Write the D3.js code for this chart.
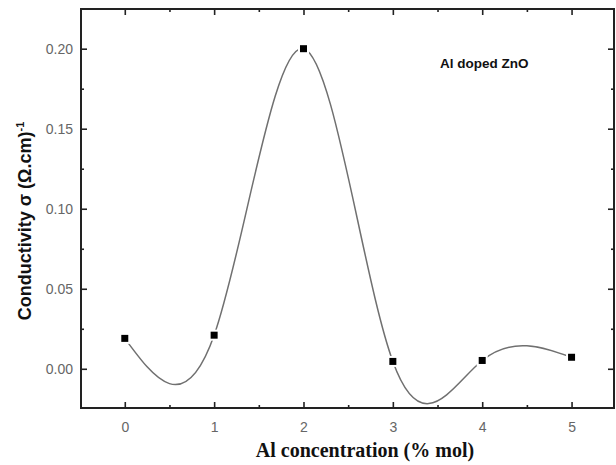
<!DOCTYPE html>
<html>
<head>
<meta charset="utf-8">
<script src="https://cdn.jsdelivr.net/npm/d3@7"></script>
<style>
    body { margin: 0; background: #fff; }
    svg { display: block; }
</style>
</head>
<body>
<div id="chart"></div>
<script>
// Data
const concentrations = [0, 1, 2, 3, 4, 5];
const conductivity = [0.019, 0.021, 0.200, 0.0046, 0.0052, 0.0072];
const xTicks = [0, 1, 2, 3, 4, 5];
const yTicks = [0.00, 0.05, 0.10, 0.15, 0.20];

const MARGIN = { LEFT: 81, RIGHT: 2, TOP: 9, BOTTOM: 57 };
const WIDTH = 616 - MARGIN.LEFT - MARGIN.RIGHT;
const HEIGHT = 465 - MARGIN.TOP - MARGIN.BOTTOM;

const svg = d3.select("#chart").append("svg")
    .attr("width", 616)
    .attr("height", 465);

const g = svg.append("g")
    .attr("transform", `translate(${MARGIN.LEFT}, ${MARGIN.TOP})`);

const x = d3.scaleLinear().domain([-0.49, 5.475]).range([0, WIDTH]);
const y = d3.scaleLinear().domain([-0.0245, 0.2248]).range([HEIGHT, 0]);

const data = concentrations.map((c, i) => ({ c, v: conductivity[i] }));

// Axes (ticks inward, minor ticks between)
const axisColor = "#222";
function styleAxis(sel) {
    sel.select(".domain").remove();
    sel.selectAll("line").attr("stroke", axisColor).attr("stroke-width", 1.6);
    sel.selectAll("text")
        .style("font-family", "Liberation Sans, Arial, sans-serif")
        .style("font-size", "14px")
        .attr("fill", "#666");
}

const xMinor = d3.range(-0.5, 5.6, 0.5).filter(d => d > -0.49 && d < 5.47 && !xTicks.includes(d));
const yMinor = d3.range(-0.025, 0.226, 0.025).map(d => +d.toFixed(3))
    .filter(d => d > -0.0245 && d < 0.2248 && !yTicks.includes(d));

// bottom
g.append("g").attr("transform", `translate(0, ${HEIGHT})`)
    .call(d3.axisBottom(x).tickValues(xTicks).tickSize(-6).tickPadding(14).tickFormat(d3.format("d")))
    .call(styleAxis);
g.append("g").attr("transform", `translate(0, ${HEIGHT})`)
    .call(d3.axisBottom(x).tickValues(xMinor).tickSize(-3).tickFormat(""))
    .call(styleAxis);
// top
g.append("g")
    .call(d3.axisTop(x).tickValues(xTicks).tickSize(-6).tickFormat(""))
    .call(styleAxis);
g.append("g")
    .call(d3.axisTop(x).tickValues(xMinor).tickSize(-3).tickFormat(""))
    .call(styleAxis);
// left
g.append("g")
    .call(d3.axisLeft(y).tickValues(yTicks).tickSize(-6).tickPadding(8).tickFormat(d3.format(".2f")))
    .call(styleAxis);
g.append("g")
    .call(d3.axisLeft(y).tickValues(yMinor).tickSize(-3).tickFormat(""))
    .call(styleAxis);
// right
g.append("g").attr("transform", `translate(${WIDTH}, 0)`)
    .call(d3.axisRight(y).tickValues(yTicks).tickSize(-6).tickFormat(""))
    .call(styleAxis);
g.append("g").attr("transform", `translate(${WIDTH}, 0)`)
    .call(d3.axisRight(y).tickValues(yMinor).tickSize(-3).tickFormat(""))
    .call(styleAxis);

// frame
g.append("rect")
    .attr("width", WIDTH)
    .attr("height", HEIGHT)
    .attr("fill", "none")
    .attr("stroke", axisColor)
    .attr("stroke-width", 2);

// spline through the points
const line = d3.line()
    .x(d => x(d.c))
    .y(d => y(d.v))
    .curve(d3.curveNatural);

g.append("path")
    .datum(data)
    .attr("d", line)
    .attr("fill", "none")
    .attr("stroke", "#707070")
    .attr("stroke-width", 1.5);

// square markers with white halo (gap in line)
g.selectAll(".pt")
    .data(data)
    .enter().append("rect")
    .attr("class", "pt")
    .attr("x", d => x(d.c) - 3.5)
    .attr("y", d => y(d.v) - 3.5)
    .attr("width", 7)
    .attr("height", 7)
    .attr("fill", "#000")
    .attr("stroke", "#fff")
    .attr("stroke-width", 4)
    .attr("paint-order", "stroke");

// annotation
svg.append("text")
    .attr("x", 440)
    .attr("y", 68)
    .style("font-family", "Liberation Sans, Arial, sans-serif")
    .style("font-size", "13.5px")
    .style("font-weight", "bold")
    .attr("fill", "#111")
    .text("Al doped ZnO");

// x label
svg.append("text")
    .attr("x", 365)
    .attr("y", 457)
    .attr("text-anchor", "middle")
    .style("font-family", "Liberation Serif, Times New Roman, serif")
    .style("font-size", "20px")
    .style("font-weight", "bold")
    .attr("fill", "#111")
    .text("Al concentration (% mol)");

// y label
const yLabel = svg.append("text")
    .attr("transform", "translate(31, 221) rotate(-90)")
    .attr("text-anchor", "middle")
    .style("font-family", "Liberation Sans, Arial, sans-serif")
    .style("font-size", "18px")
    .style("font-weight", "bold")
    .attr("fill", "#111");
yLabel.append("tspan").text("Conductivity \u03c3 (\u03a9.cm)");
yLabel.append("tspan").attr("dy", -7).style("font-size", "11px").text("-1");
</script>
</body>
</html>
